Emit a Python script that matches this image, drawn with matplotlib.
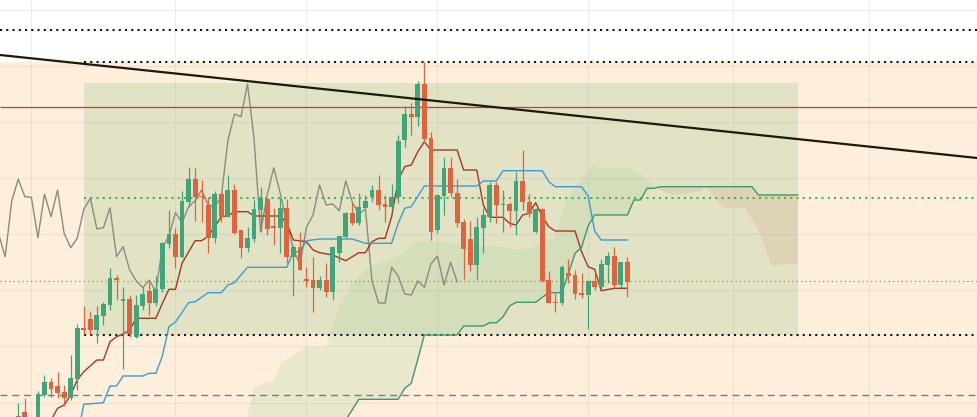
import numpy as np
import matplotlib.pyplot as plt
from matplotlib.patches import Rectangle

# candles, bar index 0..93 (bar 2 is below the visible range)
opens = [-8, 4.7, np.nan, -2, 22, 34.7, 31, 25.3, 19.3, 38,
         89, 98, 87, 101, 112, 139, 116, 118, 80, 111,
         126, 114, 128, 173, 183, 160.3, 215.3, 238, 221.3, 212,
         179.3, 223, 200.3, 227, 187, 169.3, 178, 207, 218, 191,
         189.3, 209.3, 160.3, 169.7, 137.7, 137, 129.3, 137, 125.3, 163.7,
         180.3, 204.3, 194.3, 209.3, 219.7, 227, 213, 210.3, 219.7, 277,
         303, 300.3, 333, 278.7, 187, 221.3, 249.3, 224.3, 194.7, 178,
         152, 189.3, 200.3, 232, 212, 213, 206.3, 236, 214.7, 185.3,
         208, 137, 115.3, 114.3, 144.3, 142, 123.7, 122, 136, 129.7,
         152, 161, 132, 154.7]
highs = [13.7, 18.7, np.nan, 26, 42, 39.3, 45, 32, 61.7, 93,
         111, 106, 111, 115, 149, 142, 130, 122, 122, 130,
         136, 141, 175.3, 207, 188.7, 226, 250.3, 248.7, 237, 220.3,
         226, 225.3, 242, 233, 187, 190.3, 217, 230.3, 218.7, 208.7,
         218.7, 217.7, 172, 185.3, 150.3, 160.3, 141, 153.7, 171, 181,
         205.3, 213.7, 223.7, 222, 232, 242, 222, 233, 282, 311,
         313.7, 336, 355.3, 285.3, 222, 259.7, 260.3, 237.7, 197.7, 196.3,
         199.7, 208.7, 235.3, 235.3, 227, 215.3, 245.3, 267, 223, 208.7,
         208.7, 146.3, 124.3, 152, 158, 147, 143.7, 137, 145.3, 157.7,
         165.3, 169.7, 154.7, 160.3]
lows = [-12, -10, np.nan, -6, 20, 19.7, 19.3, 11.3, 17, 27,
        83, 83, 74, 92, 107, 117, 48, 80, 79, 107,
        102, 111, 125.3, 168.7, 149.3, 158.7, 210.3, 196.3, 195.3, 163.7,
        174.3, 195.3, 199.7, 183, 159.3, 165.3, 175.3, 185.3, 182, 172,
        163.7, 153.7, 121.3, 147, 130.3, 105.3, 127, 120.3, 117, 154.7,
        178.7, 192, 192, 208.7, 215.3, 207, 195.3, 207, 214.3, 269.7,
        282, 291, 273.7, 177, 184.3, 202, 220.3, 190.3, 137.7, 146.3,
        138, 163.7, 195.3, 193.7, 185.3, 190.3, 182, 207, 200.3, 183.7,
        135.3, 114.3, 105.3, 112, 133.7, 117.7, 118.7, 87.7, 127, 127.7,
        133.7, 128.7, 128.7, 119.7]
closes = [1.3, -6, np.nan, 22.7, 35.3, 28.3, 24.3, 19.3, 39.3, 89,
          87, 87, 102, 113, 139, 137, 118, 83, 112, 123,
          114, 128, 173.7, 183, 160.3, 216, 238, 220.3, 219.7, 179.3,
          223, 200.3, 227, 183.7, 169.3, 178.7, 207.7, 218.7, 188, 189.3,
          209.3, 160.3, 170.3, 147, 136.3, 129.3, 137, 125.3, 169.7, 181,
          204.3, 194.3, 210.3, 216.3, 227, 212, 210.3, 220.3, 276.3, 303,
          300.3, 333, 278, 185.3, 222, 249.3, 223.7, 194.3, 168, 152,
          189.7, 202, 232, 212, 213, 206.3, 236, 214.7, 203, 208,
          136, 114.3, 113.7, 149.7, 141, 123, 122, 136, 129.7, 153,
          161, 132, 154.7, 135.3]

# ichimoku lines (bar index, price)
tenkan_idx = [5, 6, 7, 8, 9, 10, 12, 13, 14, 15, 16, 17, 18, 21, 22, 23, 24, 25,
              27, 28, 29, 30, 31, 32, 33, 35, 36, 40, 41, 42, 44, 45, 46, 48, 50,
              51, 52, 53, 54, 55, 56, 57, 58, 59, 60, 61, 62, 63, 67, 68, 70, 71,
              72, 74, 75, 76, 77, 78, 79, 80, 81, 82, 85, 86, 87, 88, 89, 91, 93]
tenkan_val = [-3, 8.7, 12, 22, 37, 45.3, 57, 57, 75.3, 80.3, 83, 87, 98.7, 98.7,
              113.7, 127.7, 127.7, 153.7, 176.3, 176.3, 181, 190.3, 200.3, 201,
              205.3, 205.3, 201, 201, 193.7, 177, 175.3, 167, 164.3, 162, 156.3,
              160.3, 164.3, 164.3, 175.3, 178.7, 178.7, 200.3, 237, 250.3, 252,
              265.3, 275.3, 267, 267, 247, 247, 212, 199.7, 199.7, 193.7, 192,
              202, 203.7, 214.3, 200.3, 190.3, 186, 186, 165.3, 150.3, 147.7,
              126.3, 128.7, 128.7]
kijun_idx = [9, 10, 13, 14, 15, 16, 19, 20, 21, 22, 23, 24, 26, 27, 29, 31, 32,
             33, 35, 41, 42, 43, 44, 46, 51, 53, 57, 58, 59, 60, 62, 70, 71, 73,
             74, 80, 81, 82, 86, 87, 88, 89, 93]
kijun_val = [-20, 12.7, 14.3, 31, 31, 41, 41, 43.7, 43.7, 61, 90.3, 95, 114.3,
             115.3, 124.3, 124.3, 132, 134.3, 149.7, 149.7, 165.3, 165.3, 176.3,
             178, 178, 173.7, 173.7, 193.7, 208.7, 210.3, 231, 231, 236, 236,
             246.3, 246.3, 235.3, 230.3, 230.3, 221, 186, 177, 177]
span_a_idx = [34, 36, 38, 39, 40, 42, 44, 47, 48, 49, 51, 53, 55, 58, 61, 63, 67,
              70, 74, 76, 78, 80, 82, 83, 84, 86, 88, 89, 93, 96, 97, 98, 100,
              102, 104, 105, 107, 108, 111, 113, 115, 117, 119]
span_a_val = [-25, 28.7, 35.3, 35.3, 53, 62, 70.3, 70.3, 92, 110.3, 134, 147,
              153.7, 160.3, 176, 175.3, 174.3, 172, 170.3, 167, 168.7, 173.7,
              180.3, 203.7, 220.3, 240.3, 253, 248.7, 248.7, 238.7, 229, 227,
              222, 223.7, 225.3, 230.3, 213.7, 208.7, 208.7, 187, 151, 153, 153]
span_b_idx = [50, 52, 58, 59, 60, 62, 67, 68, 71, 72, 73, 74, 75, 76, 79, 80, 81,
              83, 84, 85, 86, 87, 88, 93, 94, 95, 96, 97, 98, 112, 113, 119]
span_b_val = [-3, 17.7, 17.7, 28.7, 33.7, 82, 82, 91, 91, 94.3, 94.3, 100, 111,
              114.7, 114.7, 119.7, 124.3, 124.3, 143.7, 163.7, 169.7, 191, 202,
              202, 217, 217, 228.7, 228.7, 230.3, 230.3, 222, 222]
lag_shift = 26
cloud_switch = 97

# drawings
trend_idx = [-2.8, 146.4]
trend_val = [362, 259]
zone_idx = (10, 119)
zone_val = (82, 334)
band_top = 355
level_top = 387
levels_zone = [355, 82]
level_green = 219
level_red = 310
level_red_dotted = 136
level_dashed = 22

grid_x = [1.9, 23.9, 43.9, 63.9, 87.0, 109.1, 129.9]
grid_y = [14, 71, 127, 183, 239, 295, 351, 407]

x_min, x_max = -2.79, 146.37
y_min, y_max = 0, 417

UP = '#42a57a'
DOWN = '#e0633f'

fig = plt.figure(figsize=(9.77, 4.17), dpi=100)
ax = fig.add_axes([0, 0, 1, 1])
ax.set_facecolor('white')

ax.axhspan(-100, band_top, color='#fdefdc', lw=0, zorder=0)
ax.add_patch(Rectangle((zone_idx[0], zone_val[0]), zone_idx[1] - zone_idx[0],
                       zone_val[1] - zone_val[0], facecolor='#e2e3c4', lw=0, zorder=0.1))

# cloud
a_idx = np.array(span_a_idx); a_val = np.array(span_a_val)
b_idx = np.array(span_b_idx); b_val = np.array(span_b_val)
ma, mb = a_idx <= cloud_switch, b_idx <= cloud_switch
ax.fill(np.r_[a_idx[ma], b_idx[mb][::-1]], np.r_[a_val[ma], b_val[mb][::-1]],
        color='#a6cf97', alpha=0.22, lw=0, zorder=0.8)
ma, mb = a_idx >= cloud_switch, b_idx >= cloud_switch
ax.fill(np.r_[a_idx[ma], b_idx[mb][::-1]], np.r_[a_val[ma], b_val[mb][::-1]],
        color='#d89d8d', alpha=0.22, lw=0, zorder=0.8)

# levels
ax.hlines(level_top, x_min, x_max, colors='#111111', lw=1.5, linestyles=(0, (1, 2)), zorder=2)
for lv in levels_zone:
    ax.hlines(lv, zone_idx[0], x_max, colors='#111111', lw=1.5, linestyles=(0, (1, 2)), zorder=2)
ax.hlines(level_green, zone_idx[0], x_max, colors='#4caf50', lw=1.5, linestyles=(0, (1, 2)), zorder=2)
ax.hlines(level_red, x_min, x_max, colors='#d6304b', lw=0.9, zorder=2)
ax.hlines(level_red_dotted, x_min, x_max, colors='#e06a4a', lw=0.9, linestyles=(0, (1, 2.5)), zorder=2)
ax.hlines(level_dashed, x_min, x_max, colors='#787b86', lw=1.0, linestyles=(0, (5, 3.5)), zorder=2)

# ichimoku lines
idx = np.arange(len(closes))
ax.plot(idx - lag_shift, closes, color='#8d8a7c', lw=1.0, zorder=2.5)
ax.plot(tenkan_idx, tenkan_val, color='#a3391f', lw=1.0, zorder=2.6)
ax.plot(kijun_idx, kijun_val, color='#3b9bd6', lw=1.0, zorder=2.6)
ax.plot(span_b_idx, span_b_val, color='#3a9a6b', lw=1.0, zorder=2.6)

# candles
o = np.array(opens); h = np.array(highs); l = np.array(lows); c = np.array(closes)
cols = np.where(c >= o, UP, DOWN)
ax.vlines(idx, l, h, colors=cols, lw=0.9, zorder=3)
body = np.maximum(np.abs(c - o), 1.2)
ax.bar(idx, body, bottom=np.fmin(o, c), width=0.74, color=cols, lw=0, zorder=3.1)

ax.plot(trend_idx, trend_val, color='#1c1a0c', lw=1.6, zorder=4)

ax.set_xticks(grid_x)
ax.set_yticks(grid_y)
ax.grid(True, color='#b0b0b0', alpha=0.22, lw=0.8)
ax.set_axisbelow(True)
ax.tick_params(length=0, labelbottom=False, labelleft=False)
for s in ax.spines.values():
    s.set_visible(False)
ax.set_xlim(x_min, x_max)
ax.set_ylim(y_min, y_max)

fig.savefig('out.png', dpi=100)
